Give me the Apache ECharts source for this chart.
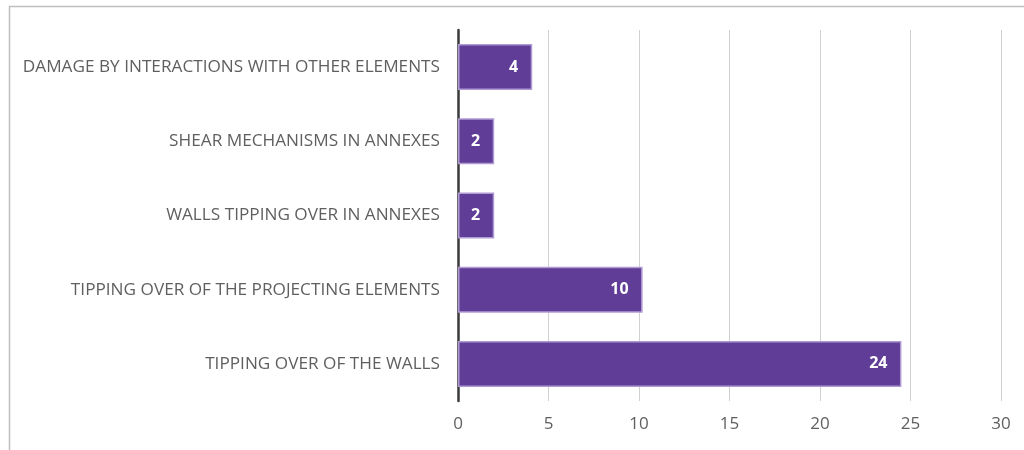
<!DOCTYPE html>
<html><head><meta charset="utf-8">
<script src="https://cdn.jsdelivr.net/npm/echarts@6/dist/echarts.min.js"></script>
<style>html,body{margin:0;padding:0;background:#fff}#c{width:1024px;height:450px}</style>
</head><body><div id="c"></div>
<script>
const categories = [
  "DAMAGE BY INTERACTIONS WITH OTHER ELEMENTS",
  "SHEAR MECHANISMS IN ANNEXES",
  "WALLS TIPPING OVER IN ANNEXES",
  "TIPPING OVER OF THE PROJECTING ELEMENTS",
  "TIPPING OVER OF THE WALLS"
];
const values = [4.1, 2, 2, 10.2, 24.5];
const valueLabels = ["4", "2", "2", "10", "24"];
const xTicks = [0, 5, 10, 15, 20, 25, 30];

const font = "Open Sans";
const chart = echarts.init(document.getElementById('c'), null, {renderer: 'canvas'});
chart.setOption({
  animation: false,
  graphic: [{
    type: 'rect', left: 7, top: 4, silent: true,
    shape: {x: 0, y: 0, width: 1100, height: 500},
    style: {fill: 'none', stroke: '#bfbfbf', lineWidth: 1.5}
  }],
  grid: {left: 458, right: 23, top: 30, bottom: 49, containLabel: false},
  xAxis: {
    type: 'value', min: xTicks[0], max: xTicks[xTicks.length - 1], interval: 5,
    axisLine: {show: false}, axisTick: {show: false},
    axisLabel: {color: '#5f5f5f', fontFamily: font, fontSize: 17, margin: 15},
    splitLine: {lineStyle: {color: '#d0d0d0', width: 1}}
  },
  yAxis: {
    type: 'category', data: categories, inverse: true,
    axisLine: {lineStyle: {color: '#3a3a3a', width: 2.5}},
    axisTick: {show: false},
    axisLabel: {color: '#5f5f5f', fontFamily: font, fontSize: 17.2, margin: 18}
  },
  series: [{
    type: 'bar', data: values, barCategoryGap: '38%',
    itemStyle: {color: '#603d96', borderColor: '#b09ad4', borderWidth: 1.5},
    label: {
      show: true, position: 'insideRight', distance: 14,
      color: '#ffffff', fontFamily: font, fontSize: 16, fontWeight: 'bold',
      formatter: p => valueLabels[p.dataIndex]
    }
  }]
});
</script></body></html>
